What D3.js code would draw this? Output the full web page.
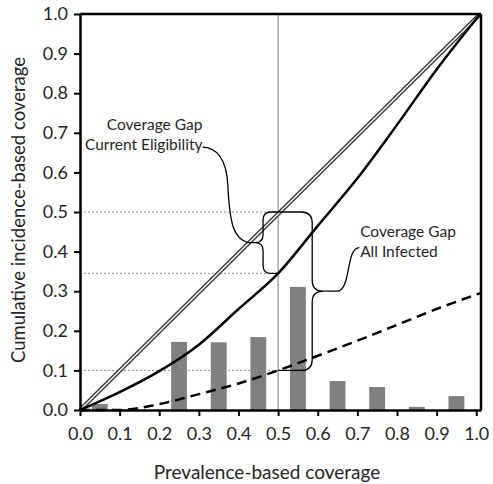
<!DOCTYPE html>
<html>
<head>
<meta charset="utf-8">
<script src="https://cdnjs.cloudflare.com/ajax/libs/d3/7.8.5/d3.min.js"></script>
<style>
  html, body { margin: 0; padding: 0; background: #fff; }
  svg { display: block; }
  text { font-family: Lato, "Open Sans", sans-serif; fill: #262626; }
</style>
</head>
<body>
<svg id="chart" width="493" height="484"></svg>
<script>
// ---- data ----
const tickValues = [0, 0.1, 0.2, 0.3, 0.4, 0.5, 0.6, 0.7, 0.8, 0.9, 1.0];
const barCenters = [0.05, 0.15, 0.25, 0.35, 0.45, 0.55, 0.65, 0.75, 0.85, 0.95];
const barValues  = [0.015, 0, 0.172, 0.171, 0.184, 0.311, 0.073, 0.058, 0.008, 0.035];
const equalityX = [0, 1.01];
const equalityY = [0, 1.0];
const allInfectedX = [0, 0.1, 0.2, 0.3, 0.4, 0.5, 0.6, 0.7, 0.8, 0.9, 1.01];
const allInfectedY = [0, 0.045, 0.098, 0.165, 0.255, 0.345, 0.465, 0.585, 0.72, 0.86, 1.0];
const eligibleX = [0, 0.1, 0.2, 0.3, 0.4, 0.5, 0.6, 0.7, 0.8, 0.9, 1.01];
const eligibleY = [0, 0, 0.015, 0.04, 0.067, 0.1, 0.137, 0.175, 0.215, 0.255, 0.295];
const refLevels = [0.5, 0.345, 0.1];
const refX = 0.5;
const xTitle = "Prevalence-based coverage";
const yTitle = "Cumulative incidence-based coverage";
const noteEligibility = ["Coverage Gap", "Current Eligibility"];
const noteAllInfected = ["Coverage Gap", "All Infected"];

// ---- layout ----
const svg = d3.select("#chart");
const x = d3.scaleLinear().domain([0, 1.012]).range([80, 481]);
const y = d3.scaleLinear().domain([0, 1]).range([410, 14]);
const fmt = d3.format(".1f");

// bars
const barW = x(0.04) - x(0);
svg.append("g").selectAll("rect").data(barCenters.map((c, i) => ({c, v: barValues[i]})).filter(d => d.v > 0))
  .join("rect")
  .attr("x", d => x(d.c) - barW / 2)
  .attr("width", barW)
  .attr("y", d => y(d.v))
  .attr("height", d => y(0) - y(d.v))
  .attr("fill", "#808080");

// reference dotted lines
svg.append("g").selectAll("line").data(refLevels).join("line")
  .attr("x1", x(0)).attr("x2", x(refX))
  .attr("y1", d => y(d)).attr("y2", d => y(d))
  .attr("stroke", "#8c8c8c").attr("stroke-width", 1).attr("stroke-dasharray", "2,2");

// vertical reference
svg.append("line")
  .attr("x1", x(refX)).attr("x2", x(refX)).attr("y1", y(0)).attr("y2", y(1))
  .attr("stroke", "#7a7a7a").attr("stroke-width", 1);

const line = d3.line().x(d => x(d[0])).y(d => y(d[1]));
const smooth = d3.line().x(d => x(d[0])).y(d => y(d[1])).curve(d3.curveMonotoneX);

// equality double line
const eq = equalityX.map((v, i) => [v, equalityY[i]]);
svg.append("path").attr("d", line(eq)).attr("fill", "none").attr("stroke", "#3c3c3c").attr("stroke-width", 4.2);
svg.append("path").attr("d", line(eq)).attr("fill", "none").attr("stroke", "#ffffff").attr("stroke-width", 1.3);

// all infected curve
svg.append("path").attr("d", smooth(allInfectedX.map((v, i) => [v, allInfectedY[i]])))
  .attr("fill", "none").attr("stroke", "#000").attr("stroke-width", 2.5);

// current eligibility curve (dashed)
svg.append("path").attr("d", smooth(eligibleX.map((v, i) => [v, eligibleY[i]])))
  .attr("fill", "none").attr("stroke", "#000").attr("stroke-width", 2.5).attr("stroke-dasharray", "10,6");

// braces
function brace(xs, yTop, yBot, endX, tipX, yMid, r) {
  const X = x(xs), T = y(yTop), B = y(yBot), E = x(endX), P = x(tipX), M = y(yMid);
  const se = Math.sign(E - X), st = Math.sign(P - X);
  return `M${E},${T} L${X + se * r},${T} Q${X},${T} ${X},${T + r} L${X},${M - r} Q${X},${M} ${X + st * r},${M} L${P},${M}` +
         ` M${X + st * r},${M} Q${X},${M} ${X},${M + r} L${X},${B - r} Q${X},${B} ${X + se * r},${B} L${E},${B}`;
}
const br = svg.append("g").attr("fill", "none").attr("stroke", "#000").attr("stroke-width", 1.3);
br.append("path").attr("d", brace(0.462, 0.5, 0.345, 0.5, 0.424, 0.4225, 8));
br.append("path").attr("d", brace(0.586, 0.5, 0.1, 0.5, 0.62, 0.3, 11));

// connectors
br.append("path").attr("d",
  `M${x(0.309)},${y(0.664)} C${x(0.342)},${y(0.664)} ${x(0.37)},${y(0.636)} ${x(0.373)},${y(0.568)}` +
  ` C${x(0.378)},${y(0.467)} ${x(0.388)},${y(0.434)} ${x(0.424)},${y(0.4225)}`);
br.append("path").attr("d",
  `M${x(0.62)},${y(0.3)} L${x(0.648)},${y(0.3)} C${x(0.685)},${y(0.3)} ${x(0.67)},${y(0.41)} ${x(0.705)},${y(0.41)}`);

// annotation text
const t1 = svg.append("text").attr("text-anchor", "end").attr("font-size", 15.5);
noteEligibility.forEach((s, i) => t1.append("tspan").attr("x", x(0.309)).attr("y", y(0.706) + i * 20).text(s));
const t2 = svg.append("text").attr("text-anchor", "start").attr("font-size", 15.5);
noteAllInfected.forEach((s, i) => t2.append("tspan").attr("x", x(0.707)).attr("y", y(0.437) + i * 20).text(s));

// axes
const xAxis = d3.axisBottom(x).tickValues(tickValues).tickFormat(fmt).tickSize(6).tickSizeOuter(0).tickPadding(11);
const yAxis = d3.axisLeft(y).tickValues(tickValues).tickFormat(fmt).tickSize(6).tickSizeOuter(0).tickPadding(6);
const gx = svg.append("g").attr("transform", `translate(0,${y(0)})`).call(xAxis);
const gy = svg.append("g").attr("transform", `translate(${x(0)},0)`).call(yAxis);
[gx, gy].forEach(g => {
  g.select(".domain").attr("stroke", "#000").attr("stroke-width", 2.5);
  g.selectAll(".tick line").attr("stroke", "#000").attr("stroke-width", 2);
  g.selectAll(".tick text").attr("font-size", 18).attr("font-family", "Lato").attr("fill", "#262626");
});
// frame top / right
svg.append("line").attr("x1", x(0)).attr("x2", x(1.012)).attr("y1", y(1)).attr("y2", y(1)).attr("stroke", "#000").attr("stroke-width", 2.5);
svg.append("line").attr("x1", x(1.012)).attr("x2", x(1.012)).attr("y1", y(1)).attr("y2", y(0)).attr("stroke", "#000").attr("stroke-width", 2.5);

// titles
svg.append("text").attr("x", 267).attr("y", 479).attr("text-anchor", "middle").attr("font-size", 19).text(xTitle);
svg.append("text").attr("transform", `translate(25,210) rotate(-90)`).attr("text-anchor", "middle").attr("font-size", 18.5).text(yTitle);
</script>
</body>
</html>
